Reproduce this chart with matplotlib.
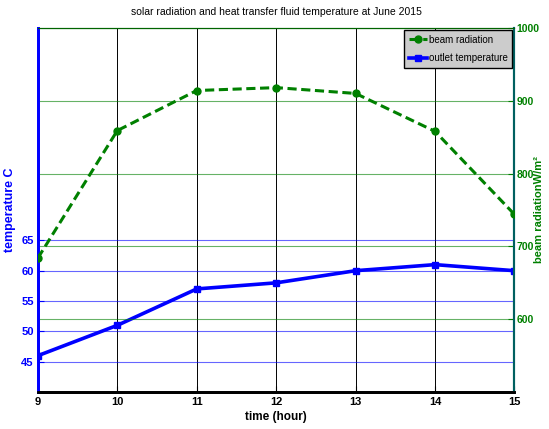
import matplotlib
matplotlib.use("Agg")
import matplotlib.pyplot as plt

# data
hours = [9, 10, 11, 12, 13, 14, 15]
beam_radiation = [684, 859, 914, 918, 910, 858, 744]
outlet_temp = [46, 51, 57, 58, 60, 61, 60]

plt.rcParams['font.family'] = ['Liberation Sans', 'DejaVu Sans']

fig = plt.figure(figsize=(5.49, 4.29), dpi=100)
ax1 = fig.add_axes([0.069, 0.086, 0.868, 0.849])
ax2 = ax1.twinx()

# temperature on the left axis
l2, = ax1.plot(hours, outlet_temp, '-s', color='#0000ff', lw=2.6, ms=5,
               label='outlet temperature', zorder=5)
ax1.set_xlim(9, 15)
ax1.set_ylim(40, 100)
ax1.set_yticks([45, 50, 55, 60, 65])
ax1.set_xticks(hours)
ax1.tick_params(axis='y', colors='#0000ff', direction='in', length=4, labelsize=8, pad=3)
ax1.tick_params(axis='x', direction='in', length=4, labelsize=8)
for t in ax1.get_xticklabels() + ax1.get_yticklabels():
    t.set_fontweight('bold')
ax1.yaxis.grid(True, color='#0000ff', lw=0.8, alpha=0.6)
ax1.xaxis.grid(True, color='black', lw=0.7)
ax1.set_ylabel('temperature C', color='#0000ff', fontweight='bold', fontsize=9,
               labelpad=4)
ax1.set_xlabel('time (hour)', fontweight='bold', fontsize=8.5, labelpad=3)

# beam radiation on the right axis
l1, = ax2.plot(hours, beam_radiation, '--o', color='#008000', lw=2.2, ms=5,
               dashes=(3, 1.5), label='beam radiation', zorder=4)
ax2.set_ylim(500, 1000)
ax2.set_yticks([600, 700, 800, 900, 1000])
ax2.tick_params(axis='y', colors='#008000', direction='in', length=4, labelsize=7.5, pad=1.5)
for t in ax2.get_yticklabels():
    t.set_fontweight('bold')
ax2.yaxis.grid(True, color='#008000', lw=0.8, alpha=0.6)
ax2.set_ylabel('beam radiationW/m²', color='#008000', fontweight='bold',
               fontsize=8)
ax2.yaxis.set_label_coords(1.042, 0.5)

for ax in (ax1, ax2):
    ax.spines['left'].set_color('#0000ff')
    ax.spines['left'].set_linewidth(2)
    ax.spines['bottom'].set_color('black')
    ax.spines['bottom'].set_linewidth(2)
    ax.spines['top'].set_color('#006400')
    ax.spines['right'].set_color('#006060')
    ax.spines['right'].set_linewidth(1.5)

leg = ax2.legend([l1, l2], ['beam radiation', 'outlet temperature'],
                 loc='upper right', fontsize=7, fancybox=False, framealpha=1,
                 borderpad=0.5, handlelength=1.8, handletextpad=0.2,
                 borderaxespad=0.2, labelspacing=0.9)
leg.get_frame().set_facecolor('#cccccc')
leg.get_frame().set_edgecolor('black')
leg.get_frame().set_linewidth(1)

ax1.set_title('solar radiation and heat transfer fluid temperature at June 2015',
              fontsize=7.5, pad=9)

fig.savefig('out.png', dpi=100)
